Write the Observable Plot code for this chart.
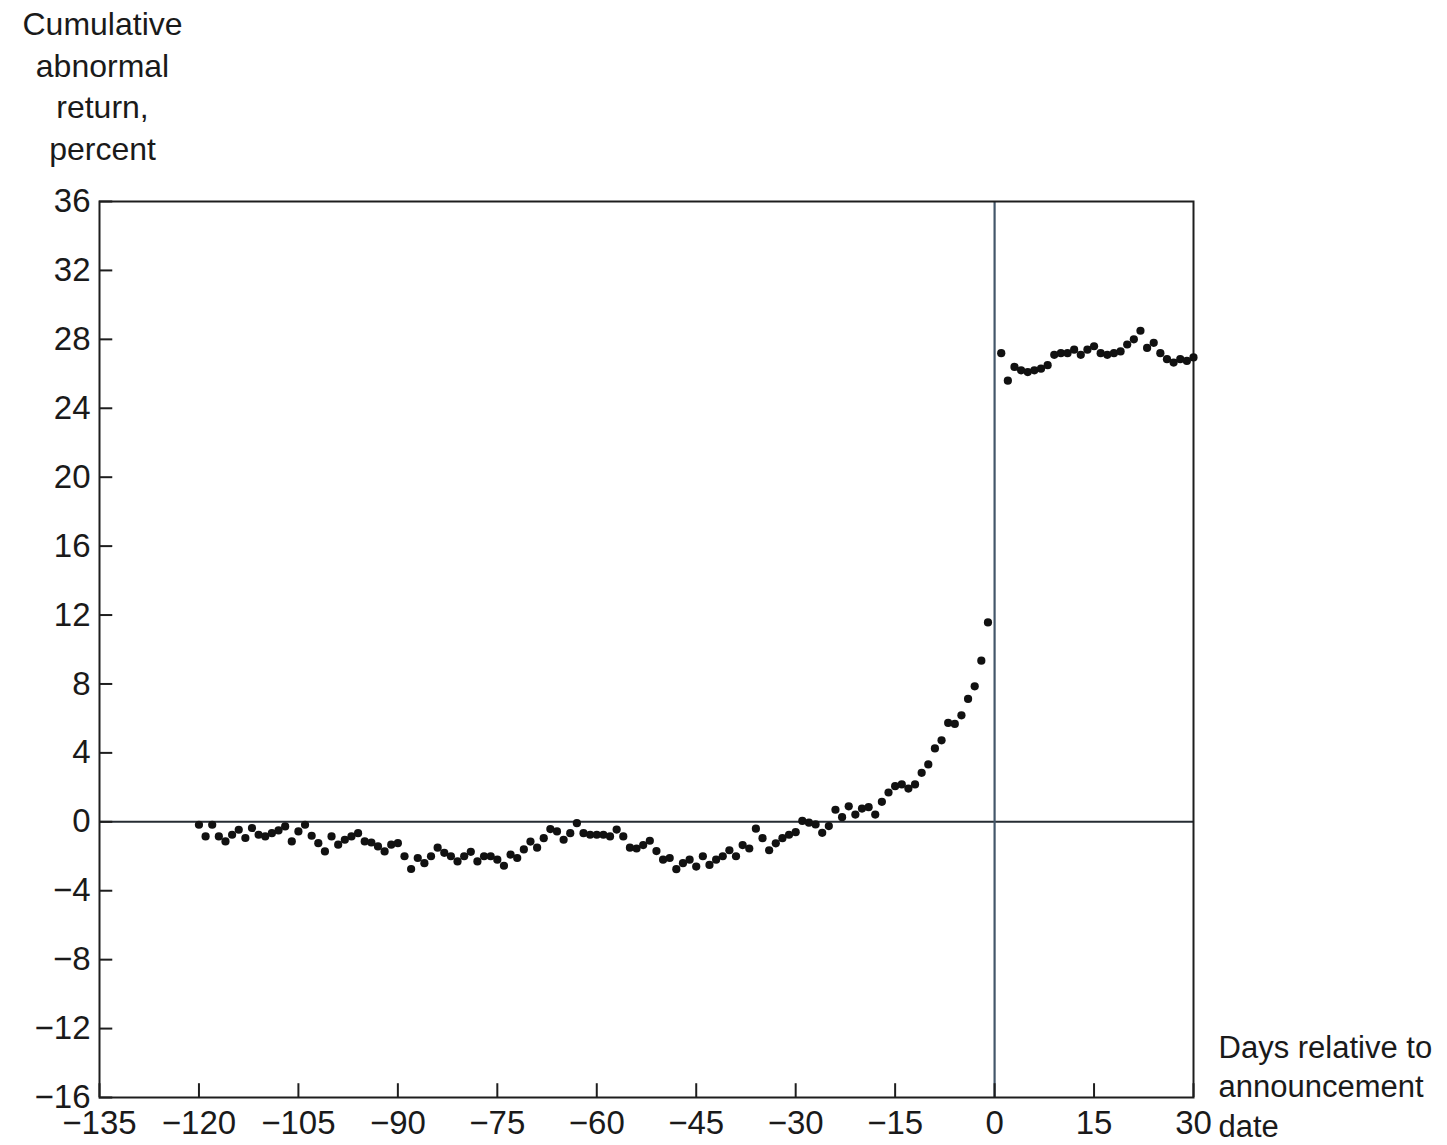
<!DOCTYPE html>
<html>
<head>
<meta charset="utf-8">
<script src="https://cdn.jsdelivr.net/npm/d3@7"></script>
<script src="https://cdn.jsdelivr.net/npm/@observablehq/plot@0.6"></script>
<style>
  html, body { margin: 0; padding: 0; background: #ffffff; }
  #chart svg { display: block; }
</style>
</head>
<body>
<div id="chart"></div>
<script>
// Days relative to the announcement date (day 0 itself carries no dot)
const preDays = d3.range(-120, 0);
const postDays = d3.range(1, 31);

// Cumulative abnormal return, percent
const preCAR = [
  -0.17, -0.85, -0.17, -0.85, -1.14, -0.75, -0.46, -0.94, -0.36, -0.75,
  -0.85, -0.66, -0.5, -0.27, -1.14, -0.56, -0.17, -0.81, -1.24, -1.72,
  -0.85, -1.33, -1.04, -0.85, -0.66, -1.14, -1.2, -1.43, -1.72, -1.33,
  -1.24, -2.0, -2.74, -2.1, -2.4, -2.0, -1.5, -1.8, -2.0, -2.3,
  -2.0, -1.74, -2.3, -2.0, -2.0, -2.2, -2.55, -1.9, -2.1, -1.6,
  -1.15, -1.5, -0.95, -0.42, -0.56, -1.04, -0.66, -0.08, -0.66, -0.75,
  -0.75, -0.75, -0.85, -0.45, -0.85, -1.5, -1.55, -1.35, -1.1, -1.7,
  -2.2, -2.1, -2.75, -2.4, -2.2, -2.6, -2.0, -2.5, -2.2, -2.0,
  -1.65, -2.0, -1.35, -1.55, -0.4, -0.95, -1.65, -1.25, -0.95, -0.75,
  -0.6, 0.05, -0.05, -0.15, -0.64, -0.25, 0.7, 0.27, 0.9, 0.42,
  0.77, 0.85, 0.42, 1.16, 1.7, 2.07, 2.17, 1.93, 2.17, 2.84,
  3.33, 4.26, 4.73, 5.74, 5.68, 6.18, 7.13, 7.86, 9.35, 11.57
];
const postCAR = [
  27.2, 25.6, 26.4, 26.2, 26.1, 26.2, 26.3, 26.5, 27.1, 27.2,
  27.2, 27.4, 27.1, 27.4, 27.6, 27.2, 27.1, 27.2, 27.3, 27.7,
  28.0, 28.5, 27.5, 27.8, 27.2, 26.85, 26.65, 26.85, 26.75, 26.95
];

// Axis ticks
const xTicks = [-135, -120, -105, -90, -75, -60, -45, -30, -15, 0, 15, 30];
const yTicks = [-16, -12, -8, -4, 0, 4, 8, 12, 16, 20, 24, 28, 32, 36];
const xDomain = [-135, 30];
const yDomain = [-16, 36];

// Titles
const yTitle = "Cumulative\nabnormal\nreturn,\npercent";
const xTitle = "Days relative to\nannouncement\ndate";

const data = preDays.map((d, i) => ({day: d, car: preCAR[i]}))
  .concat(postDays.map((d, i) => ({day: d, car: postCAR[i]})));

const fmt = d => d < 0 ? "\u2212" + Math.abs(d) : String(d);

const chart = Plot.plot({
  width: 1447,
  height: 1145,
  marginTop: 201,
  marginRight: 254,
  marginBottom: 48,
  marginLeft: 99,
  style: {
    fontFamily: "'Liberation Sans', Arial, Helvetica, sans-serif",
    fontSize: "33px",
    color: "#1a1a1a",
    background: "#ffffff",
    overflow: "visible"
  },
  x: {
    domain: xDomain,
    ticks: xTicks,
    tickFormat: fmt,
    tickSize: 0,
    tickPadding: 13,
    label: null
  },
  y: {
    domain: yDomain,
    ticks: yTicks,
    tickFormat: fmt,
    tickSize: 0,
    tickPadding: 9,
    label: null
  },
  marks: [
    Plot.ruleY([0], {stroke: "#262c33", strokeWidth: 2}),
    Plot.ruleX([0], {stroke: "#43566a", strokeWidth: 2.2}),
    // inward ticks
    Plot.ruleY(yTicks, {x1: xDomain[0], x2: xDomain[0] + 2, stroke: "#1e1e1e", strokeWidth: 2}),
    Plot.ruleX(xTicks, {y1: yDomain[0], y2: yDomain[0] + 0.8, stroke: "#1e1e1e", strokeWidth: 2}),
    Plot.frame({stroke: "#1e1e1e", strokeWidth: 2}),
    Plot.dot(data, {x: "day", y: "car", r: 4.1, fill: "#111111", stroke: null}),
    Plot.text([yTitle], {
      frameAnchor: "top-left",
      dx: 3,
      dy: -196,
      textAnchor: "middle",
      lineAnchor: "top",
      lineHeight: 1.3,
      fontSize: 32,
      fill: "#1a1a1a"
    }),
    Plot.text([xTitle], {
      frameAnchor: "bottom-right",
      dx: 25,
      dy: -68,
      textAnchor: "start",
      lineAnchor: "top",
      lineHeight: 1.28,
      fontSize: 31,
      fill: "#1a1a1a"
    })
  ]
});

document.getElementById("chart").appendChild(chart);
</script>
</body>
</html>
